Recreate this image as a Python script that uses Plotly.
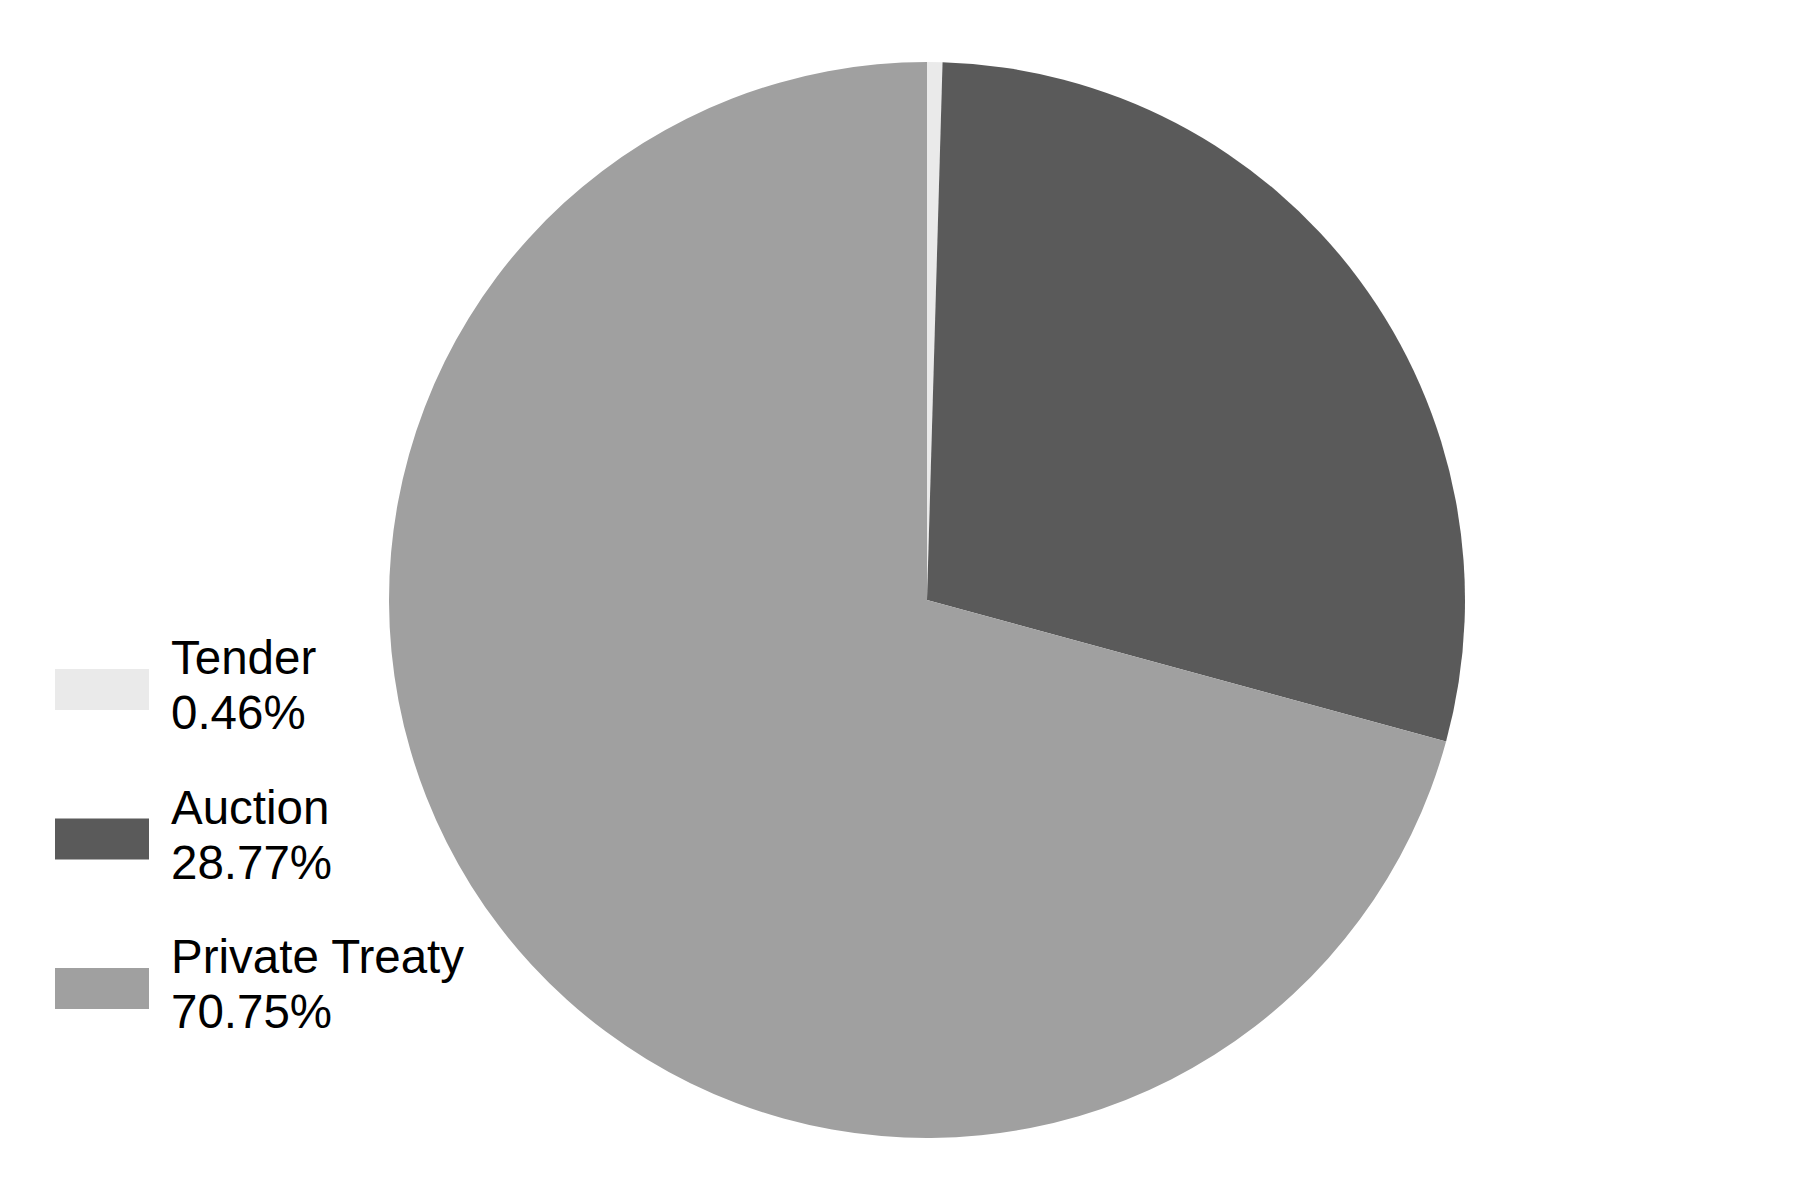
import plotly.graph_objects as go

# Share of sales by method
labels = ["Tender", "Auction", "Private Treaty"]
shares = [0.46, 28.77, 70.75]
colors = ["#EAEAEA", "#5A5A5A", "#A0A0A0"]

W, H = 1800, 1200

fig = go.Figure(
    go.Pie(
        labels=labels,
        values=shares,
        sort=False,
        direction="clockwise",
        rotation=0,
        marker=dict(colors=colors, line=dict(width=0)),
        textinfo="none",
        hoverinfo="label+percent",
        showlegend=False,
        domain=dict(x=[(927 - 538) / W, (927 + 538) / W],
                    y=[(H - 1138) / H, (H - 62) / H]),
    )
)

# Hand-built legend: swatch on the left, name and share stacked on the right
shapes = []
annotations = []
first_top = 669
step = 149.5
sw_h = 41
for i, (lab, val, col) in enumerate(zip(labels, shares, colors)):
    top = first_top + i * step
    shapes.append(dict(
        type="rect", xref="paper", yref="paper",
        x0=55 / W, x1=149 / W,
        y0=1 - (top + sw_h) / H, y1=1 - top / H,
        fillcolor=col, line=dict(width=0), layer="above",
    ))
    name_mid = top - 11.5
    for j, txt in enumerate([lab, f"{val:.2f}%"]):
        annotations.append(dict(
            xref="paper", yref="paper",
            x=169 / W, y=1 - (name_mid + j * 55) / H,
            xanchor="left", yanchor="middle",
            text=txt, showarrow=False,
            font=dict(family="Liberation Sans, Arial, sans-serif", size=47.5, color="#000000"),
        ))

fig.update_layout(
    width=W, height=H,
    margin=dict(l=0, r=0, t=0, b=0),
    paper_bgcolor="white",
    plot_bgcolor="white",
    shapes=shapes,
    annotations=annotations,
)

fig.write_html("out.html")
